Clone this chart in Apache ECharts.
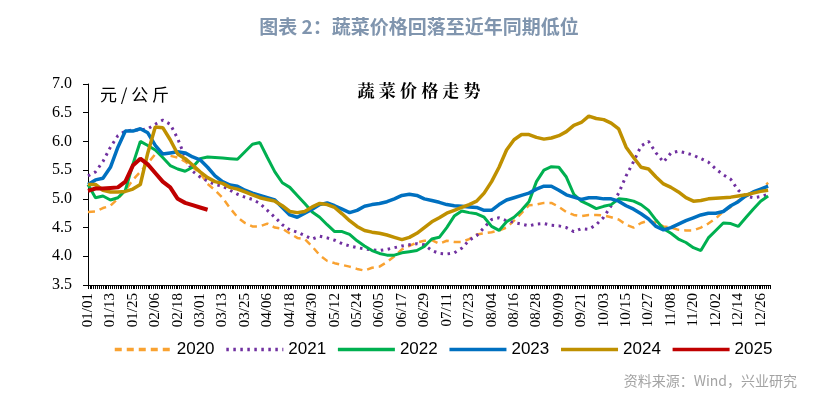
<!DOCTYPE html>
<html>
<head>
<meta charset="utf-8">
<script src="https://cdn.jsdelivr.net/npm/echarts@6/dist/echarts.min.js"></script>
<style>
  html, body { margin: 0; padding: 0; background: #fff; }
  #chart { width: 838px; height: 398px; }
</style>
</head>
<body>
<div id="chart"></div>
<script>
// 每4天取一个读数（第0天=01/01），横轴按闰年逐日排列
const STEP = 4;

const years = ['2020', '2021', '2022', '2023', '2024', '2025'];

const v2020 = [4.77, 4.78, 4.84, 4.88, 5.0, 5.15, 5.33, 5.47, 5.62, 5.78, 5.8, 5.75, 5.72, 5.65, 5.55, 5.45,
  5.26, 5.15, 5.02, 4.84, 4.68, 4.58, 4.52, 4.52, 4.57, 4.5, 4.48, 4.4, 4.32, 4.3, 4.17,
  4.02, 3.92, 3.88, 3.85, 3.82, 3.78, 3.75, 3.8, 3.82, 3.9, 4.0, 4.12, 4.18, 4.24, 4.27, 4.28,
  4.22, 4.27, 4.25, 4.25, 4.3, 4.38, 4.4, 4.42, 4.45, 4.5, 4.62, 4.75, 4.89, 4.9, 4.93, 4.93,
  4.86, 4.77, 4.72, 4.7, 4.72, 4.72, 4.71, 4.68, 4.64, 4.55, 4.5, 4.58, 4.62, 4.58, 4.52, 4.5,
  4.46, 4.45, 4.45, 4.5, 4.57, 4.66, 4.78, 4.86, 4.97, 5.04, 5.1, 5.16, 5.28];

const v2021 = [5.4, 5.47, 5.65, 5.9, 6.1, 6.18, 6.2, 6.2, 6.22, 6.3, 6.37, 6.3, 6.05, 5.72, 5.48, 5.38,
  5.31, 5.25, 5.22, 5.15, 5.08, 5.03, 4.99, 4.92, 4.8, 4.68, 4.55, 4.46, 4.42, 4.36, 4.3,
  4.35, 4.32, 4.28, 4.22, 4.18, 4.15, 4.13, 4.11, 4.1, 4.12, 4.15, 4.18, 4.2, 4.22, 4.2, 4.1,
  4.05, 4.04, 4.06, 4.14, 4.28, 4.36, 4.5, 4.64, 4.67, 4.62, 4.59, 4.56, 4.53, 4.56, 4.57, 4.54,
  4.53, 4.5, 4.43, 4.48, 4.47, 4.55, 4.68, 4.88, 5.1, 5.4, 5.65, 5.92, 6.0, 5.8, 5.64, 5.8,
  5.83, 5.8, 5.76, 5.7, 5.64, 5.52, 5.42, 5.34, 5.15, 5.05, 5.02, 5.04, 5.08];

const v2022 = [5.25, 5.02, 5.05, 4.98, 5.02, 5.15, 5.6, 6.0, 5.93, 5.85, 5.72, 5.58, 5.52, 5.48, 5.55, 5.7,
  5.73, 5.72, 5.71, 5.7, 5.69, 5.82, 5.95, 5.98, 5.72, 5.47, 5.28, 5.2, 5.06, 4.92, 4.77,
  4.68, 4.55, 4.43, 4.43, 4.38, 4.27, 4.18, 4.1, 4.05, 4.02, 4.02, 4.06, 4.08, 4.1, 4.17, 4.3,
  4.33, 4.5, 4.7, 4.79, 4.76, 4.74, 4.68, 4.52, 4.45, 4.6, 4.68, 4.8, 4.95, 5.3, 5.5, 5.56,
  5.55, 5.38, 5.08, 4.96, 4.9, 4.83, 4.87, 4.9, 5.0, 4.99, 4.96, 4.9, 4.8, 4.63, 4.48, 4.4,
  4.3, 4.24, 4.15, 4.1, 4.32, 4.45, 4.58, 4.57, 4.52, 4.67, 4.82, 4.96, 5.05];

const v2023 = [5.25, 5.33, 5.36, 5.55, 5.9, 6.18, 6.18, 6.22, 6.15, 5.93, 5.78, 5.8, 5.82, 5.8, 5.73, 5.68,
  5.55, 5.4, 5.3, 5.24, 5.22, 5.15, 5.1, 5.06, 5.02, 4.98, 4.85, 4.72, 4.68, 4.75, 4.82,
  4.9, 4.93, 4.88, 4.82, 4.76, 4.8, 4.87, 4.9, 4.92, 4.95, 5.0, 5.06, 5.08, 5.06, 5.0, 4.97,
  4.94, 4.9, 4.88, 4.87, 4.86, 4.85, 4.8, 4.8, 4.9, 4.98, 5.02, 5.06, 5.1, 5.17, 5.22, 5.22,
  5.15, 5.07, 5.03, 4.99, 5.02, 5.02, 5.0, 5.0, 4.96, 4.88, 4.82, 4.74, 4.65, 4.52, 4.46, 4.5,
  4.56, 4.62, 4.67, 4.72, 4.75, 4.75, 4.78, 4.88, 4.95, 5.05, 5.12, 5.17, 5.22];

const v2024 = [5.25, 5.25, 5.15, 5.12, 5.12, 5.13, 5.17, 5.25, 5.8, 6.25, 6.24, 6.03, 5.78, 5.7, 5.59, 5.47,
  5.37, 5.3, 5.27, 5.2, 5.17, 5.12, 5.07, 5.02, 4.99, 4.96, 4.88, 4.78, 4.76, 4.78, 4.86,
  4.92, 4.9, 4.85, 4.74, 4.62, 4.52, 4.45, 4.42, 4.4, 4.37, 4.33, 4.29, 4.33, 4.4, 4.5, 4.6,
  4.67, 4.75, 4.8, 4.85, 4.9, 4.96, 5.1, 5.3, 5.55, 5.85, 6.03, 6.12, 6.12, 6.07, 6.04, 6.06,
  6.1, 6.17, 6.28, 6.33, 6.44, 6.4, 6.38, 6.32, 6.22, 5.9, 5.72, 5.55, 5.52, 5.38, 5.26, 5.2,
  5.12, 5.02, 4.96, 4.97, 5.0, 5.01, 5.02, 5.03, 5.05, 5.07, 5.1, 5.13, 5.15];

const v2025 = [5.14, 5.18, 5.18, 5.19, 5.2, 5.3, 5.58, 5.7, 5.6, 5.45, 5.3, 5.2, 5.0, 4.93, 4.89, 4.85, 4.81];

const colors = ['#F9A231', '#7030A0', '#00B050', '#0070C0', '#BF9000', '#C00000'];

// 日期标签 01/01 ... 12/31（闰年，与参考图刻度一致）
const dayLabels = [];
for (let d = 0; d < 366; d++) {
  const t = new Date(Date.UTC(2024, 0, 1 + d));
  dayLabels.push(String(t.getUTCMonth() + 1).padStart(2, '0') + '/' + String(t.getUTCDate()).padStart(2, '0'));
}

function toDaily(samples) {
  const arr = new Array(dayLabels.length).fill(null);
  samples.forEach((v, i) => { arr[i * STEP] = v; });
  return arr;
}

const seriesValues = [v2020, v2021, v2022, v2023, v2024, v2025];
const lineStyles = [
  { width: 2.5, type: [7, 5] },
  { width: 3, type: [2.5, 4.5] },
  { width: 3, type: 'solid' },
  { width: 3.5, type: 'solid' },
  { width: 3.5, type: 'solid' },
  { width: 4, type: 'solid' }
];

const chart = echarts.init(document.getElementById('chart'), null, { renderer: 'canvas' });

chart.setOption({
  backgroundColor: '#fff',
  animation: false,
  title: {
    text: '图表 2：蔬菜价格回落至近年同期低位',
    left: 'center',
    top: 12,
    textStyle: {
      fontFamily: 'Noto Sans CJK SC',
      fontSize: 19,
      fontWeight: 'bold',
      color: '#8095AE'
    }
  },
  graphic: [
    {
      type: 'text',
      left: 100,
      top: 86,
      style: { text: '元 / 公 斤', font: '17px "Noto Sans CJK SC"', fill: '#000' }
    },
    {
      type: 'text',
      left: 'center',
      top: 82,
      style: { text: '蔬 菜 价 格 走 势', font: 'bold 17px "Noto Serif CJK SC", "Noto Sans CJK SC"', fill: '#000' }
    },
    {
      type: 'text',
      right: 41,
      top: 374,
      style: { text: '资料来源：Wind，兴业研究', font: '14px "Noto Sans CJK SC"', fill: '#A3A3A3' }
    }
  ],
  legend: {
    data: years,
    left: 108,
    top: 336,
    itemWidth: 57,
    itemHeight: 12,
    itemGap: 10,
    itemStyle: { opacity: 0 },
    lineStyle: { width: 3.5 },
    textStyle: { fontFamily: 'Liberation Sans', fontSize: 17, color: '#000' }
  },
  grid: { left: 88, right: 68, top: 84, bottom: 113 },
  xAxis: {
    type: 'category',
    data: dayLabels,
    boundaryGap: false,
    axisLine: { lineStyle: { color: '#000', width: 1 } },
    axisTick: { interval: 0, length: 4, lineStyle: { color: '#000' } },
    axisLabel: {
      interval: 11,
      rotate: 90,
      margin: 8,
      fontFamily: 'Liberation Serif',
      fontSize: 15,
      color: '#000'
    },
    splitLine: { show: false }
  },
  yAxis: {
    type: 'value',
    min: 3.5,
    max: 7,
    interval: 0.5,
    axisLine: { show: true, lineStyle: { color: '#000', width: 1 } },
    axisTick: { show: true, length: 5, lineStyle: { color: '#000' } },
    axisLabel: {
      margin: 16,
      fontFamily: 'Liberation Serif',
      fontSize: 16,
      color: '#000',
      formatter: v => v.toFixed(1)
    },
    splitLine: { show: false }
  },
  series: years.map((name, i) => ({
    name: name,
    type: 'line',
    data: toDaily(seriesValues[i]),
    connectNulls: true,
    showSymbol: false,
    symbol: 'none',
    color: colors[i],
    lineStyle: Object.assign({ color: colors[i] }, lineStyles[i]),
    z: 2 + i
  }))
});
</script>
</body>
</html>
